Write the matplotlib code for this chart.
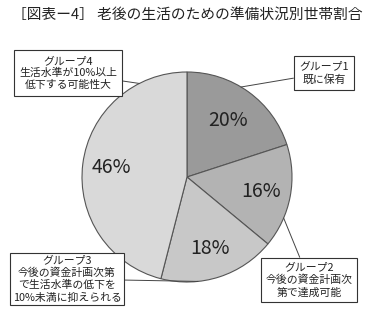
import numpy as np
import matplotlib
matplotlib.use("Agg")
import matplotlib.pyplot as plt

plt.rcParams['font.family'] = ['Noto Sans CJK JP', 'DejaVu Sans']

# data
groups = ["グループ1\n既に保有",
          "グループ2\n今後の資金計画次\n第で達成可能",
          "グループ3\n今後の資金計画次第\nで生活水準の低下を\n10%未満に抑えられる",
          "グループ4\n生活水準が10%以上\n低下する可能性大"]
shares = [20, 16, 18, 46]
colors = ["#9a9a9a", "#b3b3b3", "#c8c8c8", "#d9d9d9"]

title = "［図表ー4］ 老後の生活のための準備状況別世帯割合"

# layout (pixel coords, y up)
W, H = 373, 330
center = (187, H - 177)
radius = 105
box_pos = [(324, H - 73), (309, H - 280), (67, H - 279), (68, H - 73)]
box_pad = [0.5, 0.45, 0.25, 0.5]
anchor_ang = [59, -23, -84, 117]
pct_r = [0.66, 0.72, 0.72, 0.73]

fig = plt.figure(figsize=(W / 100, H / 100), dpi=100)
ax = fig.add_axes([0, 0, 1, 1])

wedges, _ = ax.pie(shares, colors=colors, startangle=90, counterclock=False,
                   center=center, radius=radius,
                   wedgeprops=dict(edgecolor="#555555", linewidth=0.8))

ax.set_xlim(0, W)
ax.set_ylim(0, H)
ax.axis("off")

# percent labels
for w, s, r in zip(wedges, shares, pct_r):
    mid = np.deg2rad((w.theta1 + w.theta2) / 2)
    ax.text(center[0] + r * radius * np.cos(mid),
            center[1] + r * radius * np.sin(mid),
            f"{s}%", ha="center", va="center", fontsize=14, color="#222222")

# group boxes with leader lines
for txt, pos, ang, pad in zip(groups, box_pos, anchor_ang, box_pad):
    a = np.deg2rad(ang)
    xy = (center[0] + radius * np.cos(a), center[1] + radius * np.sin(a))
    ax.annotate(txt, xy=xy, xytext=pos, ha="center", va="center",
                fontsize=7.8, color="#222222", linespacing=1.25,
                bbox=dict(boxstyle=f"square,pad={pad}", fc="white",
                          ec="#333333", lw=0.8),
                arrowprops=dict(arrowstyle="-", color="#444444", lw=0.7,
                                shrinkA=0, shrinkB=0))

fig.text(12 / W, 1 - 15 / H, title, ha="left", va="center",
         fontsize=10.6, color="#222222")

fig.savefig("out.png", dpi=100, facecolor="white")
